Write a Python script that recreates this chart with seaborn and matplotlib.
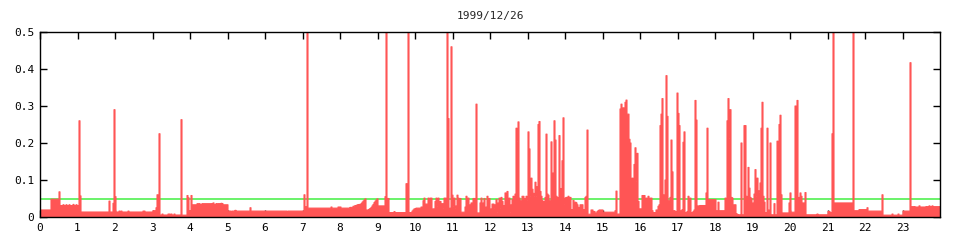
import numpy as np
import pandas as pd
import matplotlib
matplotlib.use("Agg")
import matplotlib.pyplot as plt
import seaborn as sns

# ---- data: run-length encoded samples (count of 1.6-minute samples, value) ----
SAMPLE_HOURS = 24 / 900.0

night = [(11, 0.019), (8, 0.048), (1, 0.068),
         (3, 0.031), (1, 0.033), (2, 0.031), (1, 0.033), (2, 0.031), (1, 0.033),
         (3, 0.031), (1, 0.034), (2, 0.031), (1, 0.033), (1, 0.031),
         (1, 0.017), (1, 0.26), (1, 0.057), (28, 0.0135), (1, 0.043), (3, 0.0135),
         (1, 0.037), (1, 0.29), (1, 0.055),
         (3, 0.0135), (1, 0.016), (1, 0.0135), (1, 0.016), (6, 0.0135), (1, 0.016),
         (14, 0.0135), (2, 0.016), (8, 0.0135),
         (3, 0.017), (1, 0.025), (1, 0.06), (1, 0.052), (1, 0.225),
         (2, 0.0054), (1, 0.008), (5, 0.0054), (2, 0.008), (1, 0.0054), (1, 0.008),
         (2, 0.0054), (1, 0.008), (6, 0.0054),
         (1, 0.263), (5, 0.005), (1, 0.058), (1, 0.052), (1, 0.015), (1, 0.017), (1, 0.058),
         (5, 0.033), (3, 0.036), (2, 0.034), (2, 0.036), (8, 0.036), (1, 0.034), (1, 0.038),
         (2, 0.034), (1, 0.036), (1, 0.034), (2, 0.036), (1, 0.034), (1, 0.037), (1, 0.036),
         (5, 0.033),
         (3, 0.016), (1, 0.014), (3, 0.016), (1, 0.018), (14, 0.016), (1, 0.025), (15, 0.016)]

morning = [(21, 0.016), (1, 0.0135), (16, 0.016), (1, 0.06), (2, 0.028), (1, 0.6),
           (23, 0.024), (1, 0.027), (6, 0.024), (3, 0.027), (9, 0.024),
           (3, 0.026), (2, 0.029), (2, 0.031), (2, 0.033), (2, 0.034),
           (1, 0.036), (1, 0.04), (1, 0.043), (1, 0.046), (1, 0.049),
           (3, 0.019), (1, 0.021), (1, 0.023), (1, 0.026), (1, 0.030), (1, 0.034),
           (1, 0.039), (1, 0.043), (1, 0.046), (1, 0.049),
           (7, 0.03), (1, 0.055), (1, 0.6), (2, 0.05), (5, 0.012), (1, 0.0145), (11, 0.012),
           (1, 0.09), (1, 0.012), (1, 0.6), (3, 0.012), (1, 0.016), (1, 0.019), (2, 0.022)]

midday = [(5, 0.024), (2, 0.027), (1, 0.044), (1, 0.051), (3, 0.035), (1, 0.051), (1, 0.044),
          (2, 0.051), (1, 0.017), (2, 0.022), (1, 0.042), (1, 0.051), (1, 0.029), (1, 0.051),
          (1, 0.022), (1, 0.042), (1, 0.022), (1, 0.036), (1, 0.024), (2, 0.051), (1, 0.011),
          (1, 0.6), (1, 0.266), (1, 0.015), (1, 0.024), (1, 0.46), (1, 0.059), (1, 0.029),
          (1, 0.051), (1, 0.024), (1, 0.03), (1, 0.059), (1, 0.051), (1, 0.02), (1, 0.05),
          (4, 0.013), (1, 0.027), (1, 0.056), (1, 0.035), (1, 0.051), (1, 0.02), (1, 0.033),
          (2, 0.038), (3, 0.05), (1, 0.305), (3, 0.011), (1, 0.038), (1, 0.051), (1, 0.02),
          (1, 0.038), (1, 0.05), (1, 0.011), (1, 0.027), (1, 0.056), (1, 0.033), (1, 0.05),
          (1, 0.017), (1, 0.022), (2, 0.035), (1, 0.024), (1, 0.033), (1, 0.047), (1, 0.013),
          (1, 0.038), (1, 0.051), (1, 0.024), (1, 0.053), (1, 0.042), (1, 0.006), (1, 0.031),
          (1, 0.065), (1, 0.02), (1, 0.069), (1, 0.042), (1, 0.051), (1, 0.013), (1, 0.033),
          (1, 0.047), (1, 0.056), (1, 0.033), (1, 0.062), (1, 0.24), (1, 0.205), (1, 0.257),
          (1, 0.051), (1, 0.044), (1, 0.033), (2, 0.056), (1, 0.05), (1, 0.033), (1, 0.056)]

afternoon = [(1, 0.045), (1, 0.23), (1, 0.184), (1, 0.056), (1, 0.105), (1, 0.075), (1, 0.064),
             (1, 0.056), (1, 0.094), (1, 0.056), (1, 0.082), (1, 0.25), (1, 0.258), (1, 0.069),
             (1, 0.056), (1, 0.044), (1, 0.033), (1, 0.042), (1, 0.053), (1, 0.224), (1, 0.062),
             (1, 0.059), (1, 0.044), (1, 0.036), (1, 0.203), (1, 0.05), (1, 0.119), (1, 0.26),
             (1, 0.208), (1, 0.056), (1, 0.053), (1, 0.051), (1, 0.22), (1, 0.077), (1, 0.015),
             (1, 0.152), (1, 0.268), (1, 0.035), (1, 0.051), (1, 0.053), (1, 0.05), (1, 0.056),
             (1, 0.05), (1, 0.053), (1, 0.012), (1, 0.02), (1, 0.045), (2, 0.04), (1, 0.038),
             (1, 0.033), (1, 0.026), (1, 0.017), (3, 0.033), (2, 0.02), (1, 0.053), (1, 0.056),
             (1, 0.235), (3, 0.0075), (2, 0.019), (2, 0.015), (2, 0.011), (1, 0.015), (1, 0.017),
             (4, 0.019), (12, 0.013), (1, 0.017), (1, 0.07), (1, 0.006), (2, 0.008),
             (1, 0.292), (1, 0.305), (1, 0.25), (1, 0.295), (1, 0.238), (1, 0.31), (1, 0.316),
             (2, 0.278), (1, 0.21), (1, 0.2), (1, 0.1), (1, 0.105), (1, 0.073), (1, 0.142),
             (1, 0.187), (1, 0.097), (1, 0.172), (1, 0.042), (1, 0.022)]

evening = [(2, 0.022), (3, 0.058), (1, 0.027), (1, 0.051), (1, 0.048), (1, 0.056), (1, 0.044),
           (2, 0.051), (1, 0.017), (2, 0.012), (1, 0.011), (2, 0.019), (1, 0.029), (1, 0.033),
           (1, 0.247), (1, 0.278), (1, 0.32), (1, 0.06), (1, 0.022), (1, 0.1), (1, 0.382),
           (1, 0.272), (1, 0.044), (1, 0.041), (1, 0.053), (1, 0.208), (1, 0.122), (1, 0.012),
           (1, 0.017), (1, 0.015), (1, 0.011), (1, 0.335), (1, 0.28), (1, 0.247), (1, 0.011),
           (1, 0.017), (1, 0.02), (1, 0.202), (1, 0.23), (1, 0.007), (1, 0.012), (1, 0.015),
           (1, 0.056), (1, 0.047), (1, 0.051), (1, 0.007), (1, 0.012), (1, 0.015), (1, 0.019),
           (1, 0.315), (1, 0.262), (3, 0.03), (6, 0.031), (1, 0.065), (1, 0.24), (8, 0.047),
           (2, 0.017), (1, 0.04), (6, 0.017), (1, 0.051), (1, 0.048), (1, 0.26), (1, 0.32),
           (1, 0.213), (1, 0.29), (1, 0.053), (1, 0.051), (1, 0.007), (2, 0.033), (1, 0.009),
           (1, 0.007), (3, 0.006), (1, 0.2), (2, 0.006), (2, 0.247), (1, 0.056), (1, 0.038),
           (1, 0.134), (1, 0.078), (1, 0.053), (1, 0.05)]

late = [(1, 0.036), (1, 0.038), (1, 0.062), (1, 0.128), (1, 0.056), (1, 0.105), (1, 0.071),
        (1, 0.067), (1, 0.092), (1, 0.24), (1, 0.31), (1, 0.056), (1, 0.04), (1, 0.012),
        (1, 0.011), (1, 0.24), (1, 0.019), (1, 0.017), (1, 0.2), (3, 0.006), (1, 0.036),
        (2, 0.006), (1, 0.205), (1, 0.045), (1, 0.25), (1, 0.275), (1, 0.06), (7, 0.011),
        (1, 0.038), (1, 0.065), (4, 0.013), (1, 0.3), (1, 0.063), (1, 0.315), (1, 0.05),
        (1, 0.053), (1, 0.065), (1, 0.056), (3, 0.038), (1, 0.066),
        (11, 0.006), (1, 0.008), (10, 0.006), (2, 0.015), (2, 0.012), (1, 0.225), (1, 0.6),
        (19, 0.038), (1, 0.6), (1, 0.011), (4, 0.017), (8, 0.02), (1, 0.025)]

night_end = [(14, 0.016), (1, 0.06), (9, 0.005), (1, 0.008), (5, 0.005), (1, 0.008), (4, 0.005),
             (7, 0.016), (1, 0.417),
             (4, 0.028), (1, 0.026), (3, 0.027), (1, 0.03), (5, 0.027), (1, 0.026), (3, 0.028),
             (1, 0.03), (2, 0.028), (1, 0.03), (7, 0.028)]

threshold = 0.05
title = "1999/12/26"
x_ticks = list(range(0, 24))
y_ticks = [0, 0.1, 0.2, 0.3, 0.4, 0.5]
y_labels = ["0", "0.1", "0.2", "0.3", "0.4", "0.5"]

# ---- build series ----
runs = night + morning + midday + afternoon + evening + late + night_end
counts = np.array([c for c, _ in runs])
vals = np.repeat([v for _, v in runs], counts)
t = np.arange(len(vals)) * SAMPLE_HOURS
t_edges = np.append(t, len(vals) * SAMPLE_HOURS)
v_edges = np.append(vals, vals[-1])
df = pd.DataFrame({"hour": t_edges, "value": v_edges})

# ---- plot ----
sns.set_style("ticks")
plt.rcParams["font.family"] = ["DejaVu Sans Mono", "DejaVu Sans"]

fig = plt.figure(figsize=(9.6, 2.4), dpi=100)
ax = fig.add_axes([40 / 960, 1 - 217 / 240, 900 / 960, 185 / 240])

red = "#ff5555"
ax.axhline(threshold, color="#50f050", lw=1.2, zorder=1)
ax.stairs(vals, t_edges, baseline=0, fill=True, color=red, lw=0, zorder=2)
sns.lineplot(data=df, x="hour", y="value", drawstyle="steps-post", estimator=None,
             color=red, lw=0.8, ax=ax, zorder=3)

ax.set_xlim(0, 24)
ax.set_ylim(0, 0.5)
ax.set_xticks(x_ticks)
ax.set_xticklabels([str(x) for x in x_ticks])
ax.set_yticks(y_ticks)
ax.set_yticklabels(y_labels)
ax.set_xlabel("")
ax.set_ylabel("")
ax.tick_params(direction="in", top=True, right=True, length=5, width=1,
               labelsize=8, colors="black", pad=4)
for s in ax.spines.values():
    s.set_visible(True)
    s.set_color("black")
    s.set_linewidth(1)
    s.set_zorder(5)
ax.set_title(title, fontsize=8, pad=9)

fig.savefig("out.png", dpi=100)
